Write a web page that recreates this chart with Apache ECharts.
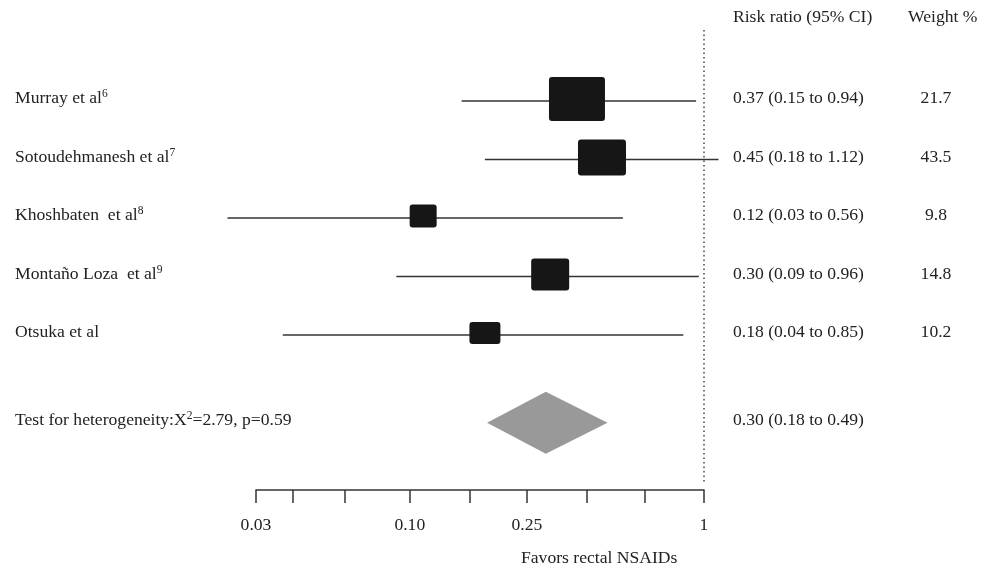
<!DOCTYPE html>
<html>
<head>
<meta charset="utf-8">
<script src="https://cdn.jsdelivr.net/npm/echarts@6/dist/echarts.min.js"></script>
<style>
  html, body { margin: 0; padding: 0; background: #fff; }
  #chart { width: 995px; height: 569px; }
</style>
</head>
<body>
<div id="chart"></div>
<script>
// study rows
const STUDIES = ['Murray et al', 'Sotoudehmanesh et al', 'Khoshbaten  et al', 'Montaño Loza  et al', 'Otsuka et al']
const REFS = ['6', '7', '8', '9', '']
const ROWS = [0, 1, 2, 3, 4]
const RR = [0.37, 0.45, 0.111, 0.30, 0.18]
const LO = [0.15, 0.18, 0.024, 0.09, 0.037]
const HI = [0.94, 1.12, 0.53, 0.96, 0.85]
const CI_TEXT = ['0.37 (0.15 to 0.94)', '0.45 (0.18 to 1.12)', '0.12 (0.03 to 0.56)', '0.30 (0.09 to 0.96)', '0.18 (0.04 to 0.85)']
const WEIGHTS = ['21.7', '43.5', '9.8', '14.8', '10.2']

// pooled estimate
const POOLED_ROW = 5.5
const POOLED = [0.183, 0.29, 0.47] // lo, rr, hi
const POOLED_CI_TEXT = '0.30 (0.18 to 0.49)'
const HETERO_TEXT = '{n|Test for heterogeneity:X}{s|2}{n|=2.79, p=0.59}'

// x axis
const X_TICKS = [0.03, 0.04, 0.06, 0.1, 0.16, 0.25, 0.4, 0.63, 1]
const X_LABELS = [0.03, 0.1, 0.25, 1]
const X_LABEL_TEXT = ['0.03', '0.10', '0.25', '1']
const NULL_LINE = 1

// box sizes as drawn (px)
const BOX_W = [56, 48, 27, 38, 31]
const BOX_H = [44, 36, 23, 32, 22]

const FONT = 'Liberation Serif'
const FS = 17.6
const lg = v => Math.log10(v)
const allRows = ROWS.concat([POOLED_ROW])
const pick = (vals, v) => vals.findIndex(x => Math.abs(x - v) < 1e-6)

const rowStyle = {
  fontFamily: FONT,
  fontSize: FS,
  color: '#222',
  padding: [0, 0, 5, 0],
  rich: {
    n: { fontFamily: FONT, fontSize: FS, color: '#222' },
    s: { fontFamily: FONT, fontSize: 11.5, color: '#222', padding: [0, 0, 9, 0] },
  },
}
const hideAxis = { axisLine: { show: false }, axisTick: { show: false }, splitLine: { show: false } }
const yBase = { type: 'value', inverse: true, min: -1.641, max: 6.65 }
const titleFont = FS + 'px "Liberation Serif"'

const chart = echarts.init(document.getElementById('chart'))
chart.setOption({
  animation: false,
  backgroundColor: '#fff',
  grid: { left: 256, right: 291, top: 5, bottom: 79 },
  xAxis: {
    type: 'value',
    min: lg(0.03),
    max: 0,
    axisLine: { onZero: false, lineStyle: { color: '#333', width: 1.5 } },
    axisTick: { inside: false, length: 13, lineStyle: { color: '#333', width: 1.5 }, customValues: X_TICKS.map(lg) },
    axisLabel: {
      customValues: X_LABELS.map(lg),
      margin: 26,
      fontFamily: FONT,
      fontSize: FS,
      color: '#222',
      formatter: v => X_LABEL_TEXT[pick(X_LABELS.map(lg), v)] || '',
    },
    splitLine: { show: false },
  },
  yAxis: [
    {
      ...yBase, ...hideAxis,
      position: 'left',
      axisLabel: {
        ...rowStyle,
        customValues: allRows,
        align: 'left',
        margin: 241,
        formatter: v => {
          const i = pick(allRows, v)
          if (i < 0) return ''
          if (i === STUDIES.length) return HETERO_TEXT
          return '{n|' + STUDIES[i] + '}' + (REFS[i] ? '{s|' + REFS[i] + '}' : '')
        },
      },
    },
    {
      ...yBase, ...hideAxis,
      position: 'right',
      axisLabel: {
        ...rowStyle,
        customValues: allRows,
        align: 'left',
        margin: 29,
        formatter: v => {
          const i = pick(allRows, v)
          return i < 0 ? '' : CI_TEXT.concat([POOLED_CI_TEXT])[i]
        },
      },
    },
    {
      ...yBase, ...hideAxis,
      position: 'right',
      axisLabel: {
        ...rowStyle,
        customValues: ROWS,
        align: 'center',
        margin: 232,
        formatter: v => {
          const i = pick(ROWS, v)
          return i < 0 ? '' : WEIGHTS[i]
        },
      },
    },
  ],
  graphic: [
    { type: 'text', left: 733, top: 8, style: { text: 'Risk ratio (95% CI)', font: titleFont, fill: '#222' } },
    { type: 'text', left: 908, top: 8, style: { text: 'Weight %', font: titleFont, fill: '#222' } },
    { type: 'text', left: 521, top: 549, style: { text: 'Favors rectal NSAIDs', font: titleFont, fill: '#222' } },
  ],
  series: [
    {
      type: 'line',
      data: [[lg(NULL_LINE), -1.214], [lg(NULL_LINE), 6.51]],
      showSymbol: false,
      silent: true,
      lineStyle: { color: '#444', width: 1.5, type: [1.5, 3] },
    },
    {
      type: 'custom',
      data: ROWS.map((r, i) => [lg(LO[i]), lg(HI[i]), lg(RR[i]), r, i]),
      renderItem: (params, api) => {
        const row = api.value(3)
        const i = api.value(4)
        const a = api.coord([api.value(0), row])
        const b = api.coord([api.value(1), row])
        const c = api.coord([api.value(2), row])
        return {
          type: 'group',
          children: [
            { type: 'line', shape: { x1: a[0], y1: a[1], x2: b[0], y2: b[1] }, style: { stroke: '#333', lineWidth: 1.4 } },
            {
              type: 'rect',
              shape: { x: c[0] - BOX_W[i] / 2, y: c[1] - BOX_H[i] / 2 - 2, width: BOX_W[i], height: BOX_H[i], r: 3 },
              style: { fill: '#161616' },
            },
          ],
        }
      },
    },
    {
      type: 'custom',
      data: [[lg(POOLED[0]), lg(POOLED[1]), lg(POOLED[2]), POOLED_ROW]],
      renderItem: (params, api) => {
        const row = api.value(3)
        const l = api.coord([api.value(0), row])
        const m = api.coord([api.value(1), row])
        const r = api.coord([api.value(2), row])
        const h = 31
        return {
          type: 'polygon',
          shape: { points: [l, [m[0], m[1] - h], r, [m[0], m[1] + h]] },
          style: { fill: '#999' },
        }
      },
    },
  ],
})
</script>
</body>
</html>
